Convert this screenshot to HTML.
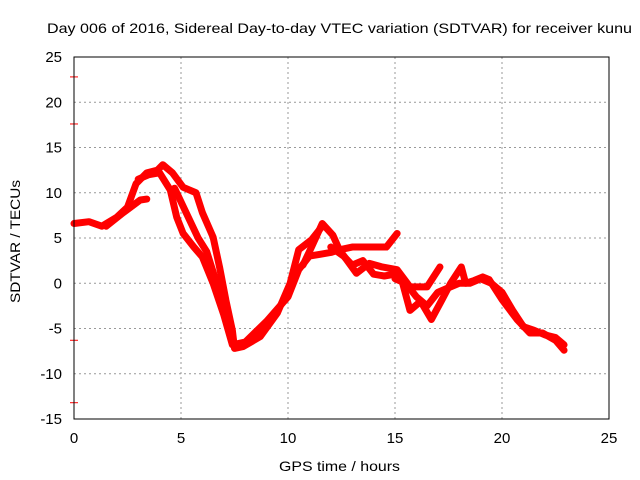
<!DOCTYPE html>
<html><head><meta charset="utf-8"><style>
body{margin:0;background:#fff;}
svg{display:block;font-family:"Liberation Sans",sans-serif;}
</style></head><body>
<svg id="chart" width="640" height="480">
<text x="47" y="33" font-size="14" textLength="585" lengthAdjust="spacingAndGlyphs">Day 006 of 2016, Sidereal Day-to-day VTEC variation (SDTVAR) for receiver kunu</text>
<text x="279" y="471" font-size="14" textLength="121" lengthAdjust="spacingAndGlyphs">GPS time / hours</text>
<text transform="translate(20,303) rotate(-90)" font-size="14" textLength="123" lengthAdjust="spacingAndGlyphs">SDTVAR / TECUs</text>
<g id="grid"></g><g id="ticks"></g><g id="series"></g>
<rect x="74" y="57" width="535" height="362" fill="none" stroke="#000" stroke-width="1"/>
</svg>
<script>
const xTicks=[0,5,10,15,20,25];
const yTicks=[-15,-10,-5,0,5,10,15,20,25];
const redMarks=[22.8,17.6,-6.3,-13.2];
const s1=[[0,6.6],[0.7,6.8],[1.3,6.3],[2,7.3],[2.5,8.4],[2.9,11],[3.4,12.2],[3.9,12.5],[4.15,13.1],[4.6,12.2],[5.1,10.6],[5.7,10],[6.0,7.8],[6.5,5.1],[6.8,1.8],[7.1,-1.9],[7.4,-5.2],[7.5,-7.2],[7.9,-7],[8.7,-5.9],[9.5,-3.3],[10.1,0],[10.5,3.7],[11.1,4.8],[11.6,6.3]];
const s2=[[3.0,11.5],[3.5,12],[4.0,12.2],[4.5,10.3],[4.8,7.3],[5.1,5.5],[5.6,4],[6.0,2.9],[6.5,0],[7,-3.5],[7.4,-6.8],[8,-6.5],[9,-4.2],[10,-1.5],[10.5,1.5],[11,3],[11.5,3.2],[12,3.4],[12.4,3.7],[13,4],[13.8,4],[14.6,4],[15.1,5.5]];
const s3=[[1.5,6.3],[2.3,7.8],[3.1,9.2],[3.4,9.3]];
const s4=[[4.7,10.5],[5.2,8],[5.8,5],[6.2,3.5],[6.6,0.5],[7.0,-3]];
const s5=[[10.7,2],[11,3.5],[11.6,6.6],[12.1,5.3],[12.4,3.7],[13.2,1.1],[13.8,2.2],[14.4,1.8],[15.1,1.5],[15.7,-0.4],[16.5,-0.4],[17.1,1.8]];
const s6=[[12,4],[12.6,3],[13,2],[13.5,2.5],[14,1],[14.5,0.8],[15,1],[15.3,0.5],[15.7,-3],[16.2,-2],[16.7,-4],[17.2,-1.8],[17.6,0],[18.1,1.8],[18.3,0],[18.7,0.3],[19.1,0.7],[19.4,0.4],[20,-1.8],[20.7,-4],[21.3,-5.5],[21.9,-5.5],[22.5,-6.3],[22.9,-7.4]];
const s7=[[15,0.5],[15.5,0],[16,-1.5],[16.5,-2.5],[17,-1],[17.5,-0.5],[18,0],[18.5,0],[19,0.5],[19.5,0],[20,-1],[20.5,-3],[21,-4.8],[21.5,-5.2],[22,-5.7],[22.5,-6],[22.9,-6.8]];
const allSeries=[s1,s2,s3,s4,s5,s6,s7];
const NS="http://www.w3.org/2000/svg";
const X=v=>74+v*535/25, Y=v=>419-(v+15)*362/40;
function mk(tag,at,parent){const e=document.createElementNS(NS,tag);for(const k in at)e.setAttribute(k,at[k]);document.getElementById(parent).appendChild(e);return e;}
xTicks.forEach(t=>{
 if(t>0&&t<25){const g=mk('line',{x1:X(t),x2:X(t),y1:57,y2:419,stroke:'#999','stroke-dasharray':'2,3'},'grid');
 
 }
 const l=mk('text',{x:X(t),y:443,'font-size':15,'text-anchor':'middle'},'ticks');l.textContent=t;
 
 
});
yTicks.forEach(t=>{
 if(t>-15&&t<25){const g=mk('line',{x1:74,x2:609,y1:Y(t),y2:Y(t),stroke:'#999','stroke-dasharray':'2,3'},'grid');
 
 }
 const l=mk('text',{x:62,y:Y(t)+5,'font-size':15,'text-anchor':'end'},'ticks');l.textContent=t;
 
 
});
redMarks.forEach(v=>{const m=mk('line',{x1:70,x2:78,y1:Y(v),y2:Y(v),stroke:'#f00','stroke-width':1},'ticks');
 
 });
allSeries.forEach((s,i)=>{
 const p=mk('polyline',{points:s.map(d=>X(d[0])+','+Y(d[1])).join(' '),fill:'none',stroke:'#f00','stroke-width':7,'stroke-linejoin':'round','stroke-linecap':'round'},'series');
 
 
});
</script>
</body></html>
